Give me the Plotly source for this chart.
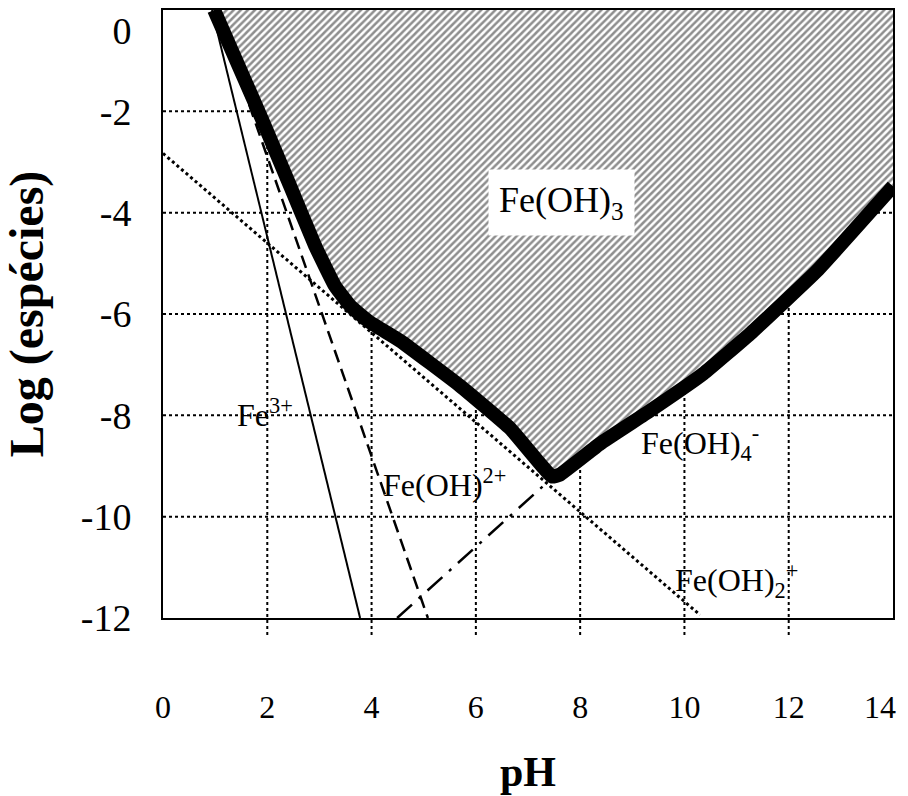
import plotly.graph_objects as go

# ---- data (pH vs log species) ----
x_tick_pos = [0, 2, 4, 6, 8, 10, 12, 13.75]
x_tick_text = ["0", "2", "4", "6", "8", "10", "12", "14"]
y_tick_pos = [-0.4, -2, -4, -6, -8, -10, -12]
y_tick_text = ["0", "-2", "-4", "-6", "-8", "-10", "-12"]
x_grid = [2, 4, 6, 8, 10, 12]
y_grid = [-2, -4, -6, -8, -10]

ph_fe3 = [0.94, 3.78]
log_fe3 = [0.0, -12.0]

ph_feoh_2p = [1.02, 5.08]
log_feoh_2p = [0.0, -12.0]

ph_feoh2_p = [0.0, 10.3]
log_feoh2_p = [-2.83, -11.94]

ph_feoh4 = [4.49, 7.5]
log_feoh4 = [-12.0, -9.2]

ph_bound = [0.98, 1.90, 2.44, 2.92, 3.30, 3.60, 3.95, 4.55, 5.70, 6.66, 7.46,
            7.61, 8.38, 9.34, 10.36, 11.26, 12.54, 14.0]
log_bound = [0.0, -2.16, -3.48, -4.66, -5.45, -5.85, -6.15, -6.53, -7.42, -8.26, -9.21,
             -9.17, -8.56, -7.91, -7.18, -6.39, -5.15, -3.48]

labels = ["Fe(OH)<sub>3</sub>", "Fe<sup>3+</sup>", "Fe(OH)<sup>2+</sup>",
          "Fe(OH)<sub>4</sub><sup>-</sup>", "Fe(OH)<sub>2</sub><sup>+</sup>"]
label_x = [7.65, 1.95, 5.39, 10.3, 11.0]
label_y = [-3.8, -7.95, -9.33, -8.55, -11.25]
label_size = [36, 32, 32, 32, 32]

FONT = "Liberation Serif"

fig = go.Figure()

# hatched Fe(OH)3 region
fig.add_trace(go.Scatter(
    x=ph_bound + [14.0, ph_bound[0]],
    y=log_bound + [0.0, 0.0],
    mode="lines", line=dict(width=0), fill="toself",
    fillcolor="white",
    fillpattern=dict(shape="/", fgcolor="#1e1e1e", bgcolor="white", size=5, solidity=0.5),
    hoverinfo="skip", showlegend=False))

fig.add_trace(go.Scatter(x=ph_feoh2_p, y=log_feoh2_p, mode="lines",
                         line=dict(color="black", width=3, dash="dot"), showlegend=False))
fig.add_trace(go.Scatter(x=ph_fe3, y=log_fe3, mode="lines",
                         line=dict(color="black", width=2), showlegend=False))
fig.add_trace(go.Scatter(x=ph_feoh_2p, y=log_feoh_2p, mode="lines",
                         line=dict(color="black", width=2.5, dash="13px,7px"), showlegend=False))
fig.add_trace(go.Scatter(x=ph_feoh4, y=log_feoh4, mode="lines",
                         line=dict(color="black", width=2.5, dash="20px,9px,3px,9px"), showlegend=False))
fig.add_trace(go.Scatter(x=ph_bound, y=log_bound, mode="lines",
                         line=dict(color="black", width=14, shape="spline", smoothing=0.3),
                         showlegend=False))

for i, (t, lx, ly, fs) in enumerate(zip(labels, label_x, label_y, label_size)):
    kw = {}
    if i == 0:
        kw = dict(bgcolor="white", borderpad=10)
    fig.add_annotation(x=lx, y=ly, text=t, showarrow=False,
                       font=dict(family=FONT, size=fs, color="black"), **kw)

# dotted grid (vertical lines extend a little below the plot)
for gx in x_grid:
    fig.add_shape(type="line", xref="x", yref="paper", x0=gx, x1=gx, y0=-0.028, y1=1,
                  layer="below", line=dict(color="black", width=2, dash="dot"))
for gy in y_grid:
    fig.add_shape(type="line", xref="paper", yref="y", x0=0, x1=1, y0=gy, y1=gy,
                  layer="below", line=dict(color="black", width=2, dash="dot"))

fig.update_xaxes(range=[0, 14], tickvals=x_tick_pos, ticktext=x_tick_text, ticks="",
                 showgrid=False, showline=True, linecolor="black", linewidth=2, mirror=True,
                 zeroline=False, ticklabelstandoff=60, ticklabeloverflow="allow",
                 tickfont=dict(family=FONT, size=32, color="black"),
                 title=dict(text="<b>pH</b>", font=dict(family=FONT, size=42, color="black"),
                            standoff=32))
fig.update_yaxes(range=[-12, 0], tickvals=y_tick_pos, ticktext=y_tick_text, ticks="",
                 showgrid=False, showline=True, linecolor="black", linewidth=2, mirror=True,
                 zeroline=False, ticklabelstandoff=22, ticklabeloverflow="allow",
                 tickfont=dict(family=FONT, size=38, color="black"),
                 title=dict(text="<b>Log (espécies)</b>", font=dict(family=FONT, size=48, color="black"),
                            standoff=22))

fig.update_layout(width=908, height=796, margin=dict(l=163, r=15, t=8, b=178),
                  plot_bgcolor="white", paper_bgcolor="white")

fig.write_html("out.html")
